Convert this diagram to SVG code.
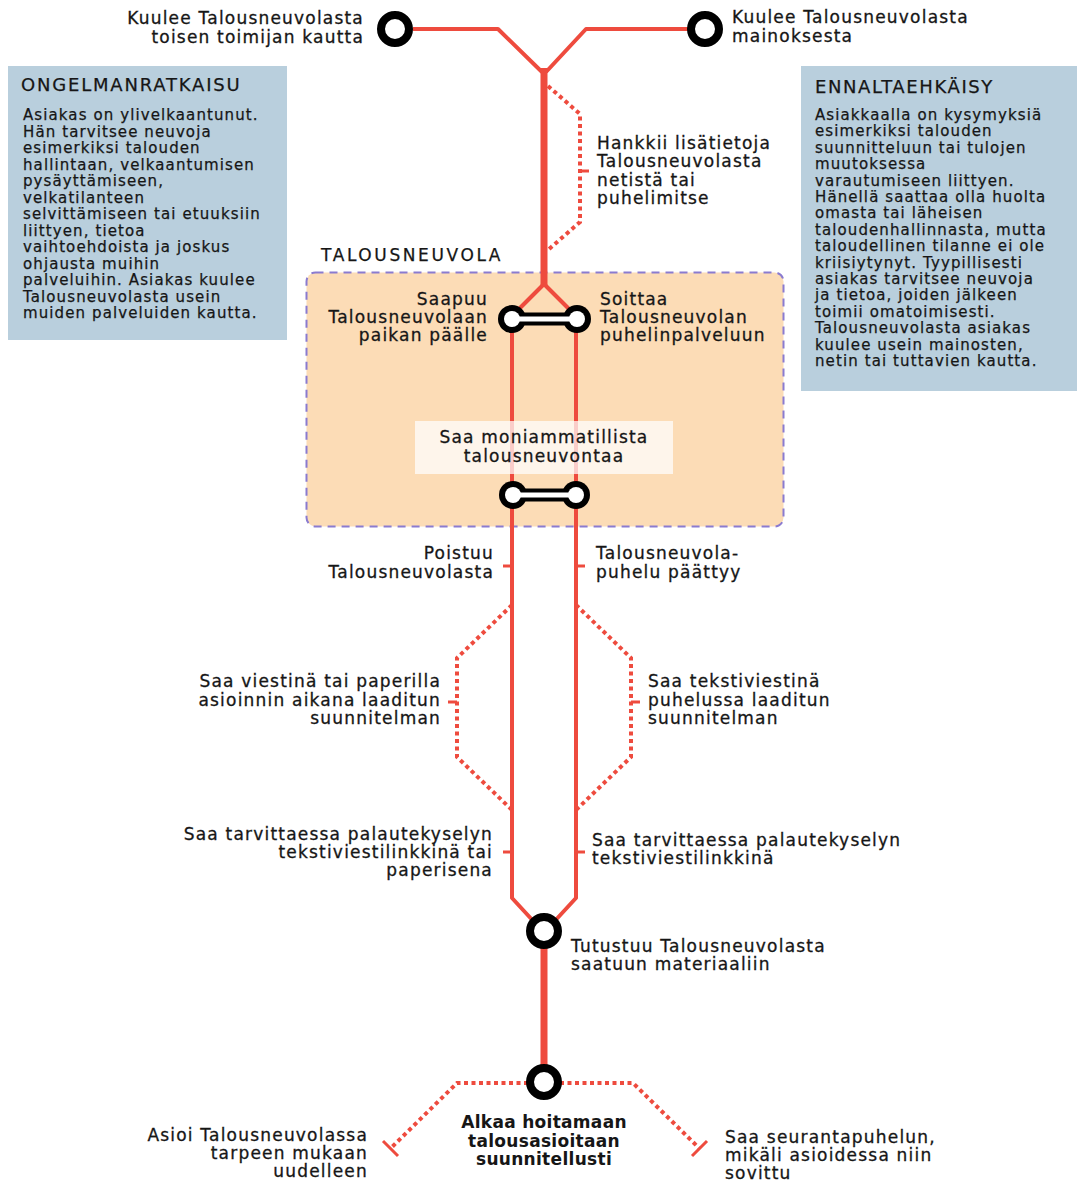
<svg xmlns="http://www.w3.org/2000/svg" width="1077" height="1182" viewBox="0 0 1077 1182">
<style>
.lbl{font-family:"DejaVu Sans",sans-serif;font-size:17px;letter-spacing:1.2px;fill:#161616;stroke:#161616;stroke-width:0.3px}
.end{text-anchor:end}
.mid{text-anchor:middle}
.bold{font-weight:bold;letter-spacing:0.3px;stroke-width:0}
.body{font-family:"DejaVu Sans",sans-serif;font-size:15px;letter-spacing:1.1px;fill:#161616;stroke:#161616;stroke-width:0.25px}
.ttl{font-family:"DejaVu Sans",sans-serif;font-size:18px;letter-spacing:1.8px;fill:#161616;stroke:#161616;stroke-width:0.25px}
.solid{fill:none;stroke:#ee4b3e;stroke-width:4;stroke-linejoin:round}
.thick{fill:none;stroke:#ee4b3e;stroke-width:7}
.dot{fill:none;stroke:#ee4b3e;stroke-width:4;stroke-dasharray:4 3.5}
.tick{fill:none;stroke:#ee4b3e;stroke-width:3}
.ring{fill:#fff;stroke:#000;stroke-width:8}
</style>
<rect width="1077" height="1182" fill="#fff"/>

<!-- side boxes -->
<g id="ongelmanratkaisu">
<rect x="8" y="66" width="279" height="274" fill="#b9cfdd"/>
<text class="ttl" x="21" y="91">ONGELMANRATKAISU</text>
<text class="body" x="23" y="120">
<tspan x="23" dy="0">Asiakas on ylivelkaantunut.</tspan>
<tspan x="23" dy="16.5">Hän tarvitsee neuvoja</tspan>
<tspan x="23" dy="16.5">esimerkiksi talouden</tspan>
<tspan x="23" dy="16.5">hallintaan, velkaantumisen</tspan>
<tspan x="23" dy="16.5">pysäyttämiseen,</tspan>
<tspan x="23" dy="16.5">velkatilanteen</tspan>
<tspan x="23" dy="16.5">selvittämiseen tai etuuksiin</tspan>
<tspan x="23" dy="16.5">liittyen, tietoa</tspan>
<tspan x="23" dy="16.5">vaihtoehdoista ja joskus</tspan>
<tspan x="23" dy="16.5">ohjausta muihin</tspan>
<tspan x="23" dy="16.5">palveluihin. Asiakas kuulee</tspan>
<tspan x="23" dy="16.5">Talousneuvolasta usein</tspan>
<tspan x="23" dy="16.5">muiden palveluiden kautta.</tspan>
</text>
</g>

<g id="ennaltaehkaisy">
<rect x="801" y="66" width="276" height="325" fill="#b9cfdd"/>
<text class="ttl" x="815" y="93" style="letter-spacing:1.6px">ENNALTAEHKÄISY</text>
<text class="body" x="815" y="120">
<tspan x="815" dy="0">Asiakkaalla on kysymyksiä</tspan>
<tspan x="815" dy="16.4">esimerkiksi talouden</tspan>
<tspan x="815" dy="16.4">suunnitteluun tai tulojen</tspan>
<tspan x="815" dy="16.4">muutoksessa</tspan>
<tspan x="815" dy="16.4">varautumiseen liittyen.</tspan>
<tspan x="815" dy="16.4">Hänellä saattaa olla huolta</tspan>
<tspan x="815" dy="16.4">omasta tai läheisen</tspan>
<tspan x="815" dy="16.4">taloudenhallinnasta, mutta</tspan>
<tspan x="815" dy="16.4">taloudellinen tilanne ei ole</tspan>
<tspan x="815" dy="16.4">kriisiytynyt. Tyypillisesti</tspan>
<tspan x="815" dy="16.4">asiakas tarvitsee neuvoja</tspan>
<tspan x="815" dy="16.4">ja tietoa, joiden jälkeen</tspan>
<tspan x="815" dy="16.4">toimii omatoimisesti.</tspan>
<tspan x="815" dy="16.4">Talousneuvolasta asiakas</tspan>
<tspan x="815" dy="16.4">kuulee usein mainosten,</tspan>
<tspan x="815" dy="16.4">netin tai tuttavien kautta.</tspan>
</text>
</g>

<!-- Talousneuvola area -->
<g id="talousneuvola">
<rect x="306.5" y="272.5" width="477" height="254" rx="9" fill="#fcdcb6" stroke="#8a7bd0" stroke-width="2" stroke-dasharray="8 6"/>
<text class="ttl" x="321" y="261" style="font-size:17px;letter-spacing:2.6px">TALOUSNEUVOLA</text>
</g>

<!-- connectors -->
<g id="connectors">
<path class="solid" d="M413 29 H498 L542 72"/>
<path class="solid" d="M690 29 H586 L546 72"/>
<path class="thick" d="M544 68 V287"/>
<path class="solid" d="M544 284 L518 310"/>
<path class="solid" d="M544 284 L570 310"/>
<path class="dot" d="M548 86 L580 114 V222 L548 250"/>
<path class="tick" d="M580 171 H589"/>
<path class="solid" d="M512 319 V898 L536 924"/>
<path class="solid" d="M576 319 V898 L552 924"/>
<path class="tick" d="M503 566 H512"/>
<path class="tick" d="M576 566 H585"/>
<path class="tick" d="M503 852 H512"/>
<path class="tick" d="M576 852 H585"/>
<path class="dot" d="M512 605 L457 658 V757 L512 810"/>
<path class="tick" d="M448 702 H457"/>
<path class="dot" d="M576 605 L631 658 V757 L576 810"/>
<path class="tick" d="M631 702 H640"/>
<path class="thick" d="M544 931 V1082"/>
<path class="dot" d="M528 1083 H457 L391 1148"/>
<path class="tick" d="M383 1141 L398 1156"/>
<path class="dot" d="M560 1083 H633 L699 1148"/>
<path class="tick" d="M692 1156 L707 1141"/>
</g>

<!-- translucent label box over lines -->
<g id="moniammatillinen">
<rect x="415" y="421" width="258" height="53" fill="#fff" fill-opacity="0.72"/>
<text class="lbl mid" x="544" y="443">Saa moniammatillista</text>
<text class="lbl mid" x="544" y="462">talousneuvontaa</text>
</g>

<!-- nodes -->
<g id="n-toinen-toimija">
<circle class="ring" cx="395" cy="29" r="14"/>
<text class="lbl end" x="364" y="24">Kuulee Talousneuvolasta</text>
<text class="lbl end" x="364" y="43">toisen toimijan kautta</text>
</g>
<g id="n-mainos">
<circle class="ring" cx="705" cy="29" r="14"/>
<text class="lbl" x="732" y="23">Kuulee Talousneuvolasta</text>
<text class="lbl" x="732" y="42">mainoksesta</text>
</g>
<g id="n-hankkii">
<text class="lbl" x="597" y="149">Hankkii lisätietoja</text>
<text class="lbl" x="597" y="167">Talousneuvolasta</text>
<text class="lbl" x="597" y="186">netistä tai</text>
<text class="lbl" x="597" y="204">puhelimitse</text>
</g>
<g id="n-saapuu">
<line x1="512" y1="319" x2="577" y2="319" stroke="#000" stroke-width="13"/>
<circle cx="512" cy="319" r="14" fill="#000"/>
<circle cx="577" cy="319" r="14" fill="#000"/>
<circle cx="512" cy="319" r="8" fill="#fff"/>
<circle cx="577" cy="319" r="8" fill="#fff"/>
<line x1="512" y1="319" x2="577" y2="319" stroke="#fff" stroke-width="5"/>
<text class="lbl end" x="488" y="305">Saapuu</text>
<text class="lbl end" x="488" y="323">Talousneuvolaan</text>
<text class="lbl end" x="488" y="341">paikan päälle</text>
<text class="lbl" x="600" y="305">Soittaa</text>
<text class="lbl" x="600" y="323">Talousneuvolan</text>
<text class="lbl" x="600" y="341">puhelinpalveluun</text>
</g>
<g id="n-neuvonta">
<line x1="513" y1="495" x2="576" y2="495" stroke="#000" stroke-width="13"/>
<circle cx="513" cy="495" r="14" fill="#000"/>
<circle cx="576" cy="495" r="14" fill="#000"/>
<circle cx="513" cy="495" r="8" fill="#fff"/>
<circle cx="576" cy="495" r="8" fill="#fff"/>
<line x1="513" y1="495" x2="576" y2="495" stroke="#fff" stroke-width="5"/>
</g>
<g id="n-poistuu">
<text class="lbl end" x="494" y="559">Poistuu</text>
<text class="lbl end" x="494" y="578">Talousneuvolasta</text>
<text class="lbl" x="596" y="559">Talousneuvola-</text>
<text class="lbl" x="596" y="578">puhelu päättyy</text>
</g>
<g id="n-suunnitelma">
<text class="lbl end" x="441" y="687">Saa viestinä tai paperilla</text>
<text class="lbl end" x="441" y="706">asioinnin aikana laaditun</text>
<text class="lbl end" x="441" y="724">suunnitelman</text>
<text class="lbl" x="648" y="687">Saa tekstiviestinä</text>
<text class="lbl" x="648" y="706">puhelussa laaditun</text>
<text class="lbl" x="648" y="724">suunnitelman</text>
</g>
<g id="n-palaute">
<text class="lbl end" x="493" y="840">Saa tarvittaessa palautekyselyn</text>
<text class="lbl end" x="493" y="858">tekstiviestilinkkinä tai</text>
<text class="lbl end" x="493" y="876">paperisena</text>
<text class="lbl" x="592" y="846">Saa tarvittaessa palautekyselyn</text>
<text class="lbl" x="592" y="864">tekstiviestilinkkinä</text>
</g>
<g id="n-tutustuu">
<circle class="ring" cx="544" cy="931" r="14"/>
<text class="lbl" x="571" y="952">Tutustuu Talousneuvolasta</text>
<text class="lbl" x="571" y="970">saatuun materiaaliin</text>
</g>
<g id="n-alkaa">
<circle class="ring" cx="544" cy="1082" r="14"/>
<text class="lbl mid bold" x="544" y="1128">Alkaa hoitamaan</text>
<text class="lbl mid bold" x="544" y="1147">talousasioitaan</text>
<text class="lbl mid bold" x="544" y="1165">suunnitellusti</text>
</g>
<g id="n-asioi">
<text class="lbl end" x="368" y="1141">Asioi Talousneuvolassa</text>
<text class="lbl end" x="368" y="1159">tarpeen mukaan</text>
<text class="lbl end" x="368" y="1177">uudelleen</text>
</g>
<g id="n-seuranta">
<text class="lbl" x="725" y="1143">Saa seurantapuhelun,</text>
<text class="lbl" x="725" y="1161">mikäli asioidessa niin</text>
<text class="lbl" x="725" y="1179">sovittu</text>
</g>
</svg>
